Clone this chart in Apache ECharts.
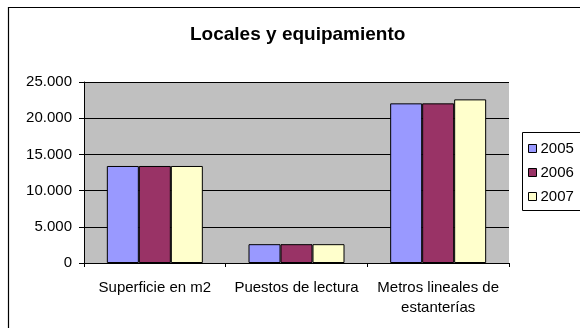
<!DOCTYPE html>
<html><head><meta charset="utf-8">
<script src="https://cdn.jsdelivr.net/npm/echarts@6/dist/echarts.min.js"></script>
<style>html,body{margin:0;padding:0;background:#fff}#c{width:580px;height:328px}</style>
</head><body><div id="c"></div>
<script>
const categories = ["Superficie en m2", "Puestos de lectura", "Metros lineales de\nestanterías"];
const years = ["2005", "2006", "2007"];
const values2005 = [13400, 2600, 22050];
const values2006 = [13400, 2600, 22050];
const values2007 = [13400, 2600, 22600];
const yTicks = { min: 0, max: 25000, interval: 5000 };
const colors = ["#9999FF", "#993366", "#FFFFCC"];

const font = "Liberation Sans, Arial, sans-serif";
const chart = echarts.init(document.getElementById('c'), null, { renderer: 'canvas' });
const seriesData = [values2005, values2006, values2007];
chart.setOption({
  animation: false,
  backgroundColor: '#fff',
  title: {
    text: 'Locales y equipamiento',
    left: 185, top: 20,
    textStyle: { fontFamily: font, fontSize: 19, fontWeight: 'bold', color: '#000' }
  },
  graphic: [
    { type: 'rect', shape: { x: 8.5, y: 7.5, width: 600, height: 400 }, style: { fill: null, stroke: '#000', lineWidth: 1.2 }, z: 100 },
    { type: 'rect', shape: { x: 522.5, y: 132.5, width: 80, height: 78 }, style: { fill: '#fff', stroke: '#000', lineWidth: 1 }, z: 0 }
  ],
  legend: {
    orient: 'vertical', left: 523, top: 136,
    itemWidth: 8, itemHeight: 8, itemGap: 9,
    icon: 'rect',
    data: years,
    itemStyle: { borderColor: '#000', borderWidth: 1 },
    textStyle: { fontFamily: font, fontSize: 15, color: '#000', padding: [0, 0, 0, -1] },
    z: 10
  },
  grid: { left: 84, right: 71, top: 82, bottom: 65, show: true, backgroundColor: '#C0C0C0', borderWidth: 0 },
  xAxis: {
    type: 'category', data: categories,
    axisLine: { lineStyle: { color: '#000', width: 1 } },
    axisTick: { show: true, length: 4, lineStyle: { color: '#000' } },
    axisLabel: { fontFamily: font, fontSize: 15, color: '#000', margin: 15, lineHeight: 20, interval: 0 }
  },
  yAxis: {
    type: 'value', min: yTicks.min, max: yTicks.max, interval: yTicks.interval,
    axisLine: { show: true, lineStyle: { color: '#000', width: 1 } },
    axisTick: { show: true, length: 5, lineStyle: { color: '#000' } },
    splitLine: { lineStyle: { color: '#000', width: 1 } },
    axisLabel: {
      fontFamily: font, fontSize: 15, color: '#000', margin: 12,
      formatter: v => v === 0 ? '0' : String(v).replace(/\B(?=(\d{3})+(?!\d))/g, '.')
    }
  },
  series: years.map((y, i) => ({
    name: y, type: 'bar', data: seriesData[i],
    barWidth: 32, barGap: '0%',
    itemStyle: { color: colors[i], borderColor: '#000', borderWidth: 1 }
  }))
});
</script></body></html>
